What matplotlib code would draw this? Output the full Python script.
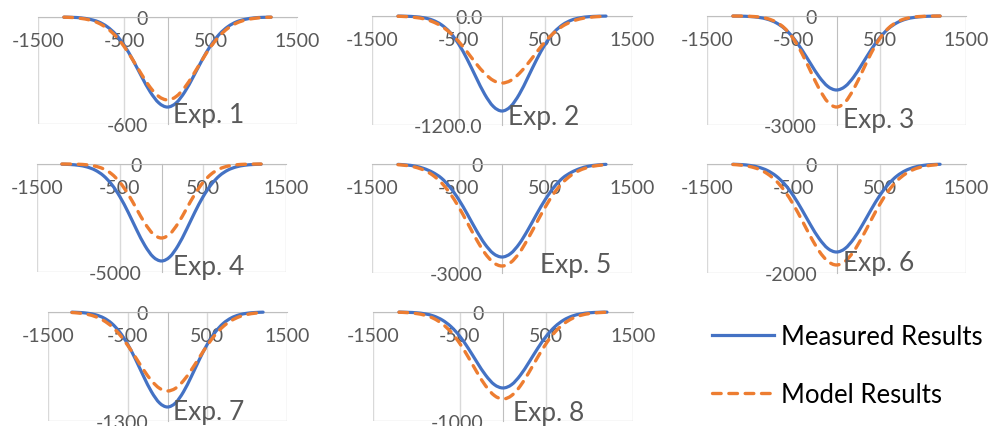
import matplotlib
matplotlib.use("Agg")
import matplotlib.pyplot as plt
from matplotlib.path import Path
from matplotlib.patches import PathPatch

plt.rcParams['font.family'] = ['Lato', 'DejaVu Sans']
plt.rcParams['axes.unicode_minus'] = False

# distancia (x) comun a todas las curvas
x = [-1200, -1100, -1000, -900, -800, -700, -600, -500, -400, -300, -200, -100, 0,
     100, 200, 300, 400, 500, 600, 700, 800, 900, 1000, 1100, 1200]

# medidos / modelo, por experimento
meas_1 = [-1, -2, -5, -13, -27, -54, -97, -160, -242, -334, -420, -482, -505,
          -482, -420, -334, -242, -160, -97, -54, -27, -13, -5, -2, -1]
model_1 = [-1, -3, -8, -17, -34, -63, -107, -167, -242, -322, -395, -446, -465,
           -446, -395, -322, -242, -167, -107, -63, -34, -17, -8, -3, -1]
meas_2 = [-1, -3, -8, -20, -46, -96, -180, -309, -479, -674, -861, -996, -1046,
          -996, -861, -674, -479, -309, -180, -96, -46, -20, -8, -3, -1]
model_2 = [-3, -7, -16, -32, -63, -111, -184, -281, -398, -522, -632, -710, -738,
           -710, -632, -522, -398, -281, -184, -111, -63, -32, -16, -7, -3]
meas_3 = [-2, -5, -15, -39, -89, -186, -350, -601, -933, -1312, -1676, -1939, -2037,
          -1939, -1676, -1312, -933, -601, -350, -186, -89, -39, -15, -5, -2]
model_3 = [-1, -3, -10, -28, -72, -165, -338, -624, -1030, -1521, -2007, -2370, -2505,
           -2370, -2007, -1521, -1030, -624, -338, -165, -72, -28, -10, -3, -1]
meas_4 = [-9, -24, -59, -135, -282, -539, -947, -1522, -2245, -3044, -3776, -4301, -4490,
          -4301, -3776, -3044, -2245, -1522, -947, -539, -282, -135, -59, -24, -9]
model_4 = [-1, -4, -13, -38, -98, -225, -463, -853, -1408, -2080, -2744, -3241, -3426,
           -3241, -2744, -2080, -1408, -853, -463, -225, -98, -38, -13, -4, -1]
meas_5 = [-10, -27, -60, -125, -230, -387, -637, -975, -1380, -1810, -2194, -2463, -2560,
          -2463, -2194, -1810, -1380, -975, -637, -387, -230, -125, -60, -27, -10]
model_5 = [-19, -42, -88, -170, -306, -514, -806, -1182, -1614, -2055, -2445, -2712, -2807,
           -2712, -2445, -2055, -1614, -1182, -806, -514, -306, -170, -88, -42, -19]
meas_6 = [-5, -11, -27, -60, -120, -220, -371, -581, -840, -1119, -1371, -1550, -1615,
          -1550, -1371, -1119, -840, -581, -371, -220, -120, -60, -27, -11, -5]
model_6 = [-9, -22, -48, -96, -180, -309, -497, -743, -1032, -1334, -1601, -1786, -1853,
           -1786, -1601, -1334, -1032, -743, -497, -309, -180, -96, -48, -22, -9]
meas_7 = [-2, -6, -15, -34, -71, -136, -239, -384, -567, -768, -953, -1085, -1133,
          -1085, -953, -768, -567, -384, -239, -136, -71, -34, -15, -6, -2]
model_7 = [-6, -14, -29, -57, -103, -172, -270, -397, -542, -690, -820, -910, -942,
           -910, -820, -690, -542, -397, -270, -172, -103, -57, -29, -14, -6]
meas_8 = [-1, -3, -7, -17, -37, -74, -134, -221, -334, -461, -580, -666, -697,
          -666, -580, -461, -334, -221, -134, -74, -37, -17, -7, -3, -1]
model_8 = [-2, -6, -14, -30, -59, -109, -184, -287, -415, -553, -678, -766, -798,
           -766, -678, -553, -415, -287, -184, -109, -59, -30, -14, -6, -2]

measured = [meas_1, meas_2, meas_3, meas_4, meas_5, meas_6, meas_7, meas_8]
model = [model_1, model_2, model_3, model_4, model_5, model_6, model_7, model_8]
titles = ["Exp. 1", "Exp. 2", "Exp. 3", "Exp. 4", "Exp. 5", "Exp. 6", "Exp. 7", "Exp. 8"]
y_min = [-600, -1200, -3000, -5000, -3000, -2000, -1300, -1000]
y_labels = [["-600", "0"], ["-1200.0", "0.0"], ["-3000", "0"], ["-5000", "0"],
            ["-3000", "0"], ["-2000", "0"], ["-1300", "0"], ["-1000", "0"]]
x_ticks = [-1500, -500, 500, 1500]
x_ticklabels = ["-1500", "-500", "500", "1500"]

# =====================
# LAYOUT (pixeles)
# =====================
W, H = 1002, 427
boxes = [(38, 297, 18, 125), (372, 632, 17, 126), (707, 966, 17, 126),
         (37, 286, 165, 273), (372, 632, 165, 274), (707, 966, 165, 274),
         (48, 287, 313, 422), (373, 633, 313, 422)]
title_pos = [(173, 123), (508, 125), (843, 128),
             (173, 275), (540, 273), (843, 271),
             (173, 420), (513, 421)]

BLUE = "#4472C4"
ORANGE = "#ED7D31"
GRID = "#D9D9D9"
AXIS = "#BFBFBF"
TXT = "#595959"
DASH = (0, (2.6, 2.3))


def smooth(xs, ys):
    # linea suavizada tipo Excel (bezier por los puntos)
    pts = list(zip(xs, ys))
    verts = [pts[0]]
    codes = [Path.MOVETO]
    n = len(pts)
    for i in range(n - 1):
        p0 = pts[max(i - 1, 0)]
        p1 = pts[i]
        p2 = pts[i + 1]
        p3 = pts[min(i + 2, n - 1)]
        c1 = (p1[0] + (p2[0] - p0[0]) / 6, p1[1] + (p2[1] - p0[1]) / 6)
        c2 = (p2[0] - (p3[0] - p1[0]) / 6, p2[1] - (p3[1] - p1[1]) / 6)
        verts += [c1, c2, p2]
        codes += [Path.CURVE4] * 3
    return Path(verts, codes)


fig = plt.figure(figsize=(W / 100, H / 100), dpi=100)

for k in range(8):
    x0, x1, y0, y1 = boxes[k]
    ax = fig.add_axes([x0 / W, 1 - y1 / H, (x1 - x0) / W, (y1 - y0) / H])
    ax.set_xlim(-1500, 1500)
    ax.set_ylim(y_min[k], 0)

    ax.add_patch(PathPatch(smooth(x, measured[k]), fill=False, edgecolor=BLUE, lw=2.3,
                           capstyle='round', clip_on=False, zorder=3))
    ax.add_patch(PathPatch(smooth(x, model[k]), fill=False, edgecolor=ORANGE, lw=2.4,
                           linestyle=DASH, capstyle='round', clip_on=False, zorder=4))

    for s in ['top', 'right']:
        ax.spines[s].set_visible(False)
    ax.spines['left'].set_position(('data', 0))
    ax.spines['bottom'].set_position(('data', 0))
    ax.spines['left'].set_color(AXIS)
    ax.spines['bottom'].set_color(AXIS)
    ax.spines['left'].set_zorder(1)
    ax.spines['bottom'].set_zorder(1)

    ax.set_xticks(x_ticks)
    ax.set_xticklabels(x_ticklabels)
    ax.set_yticks([y_min[k], 0])
    ax.set_yticklabels(y_labels[k])
    ax.tick_params(axis='both', length=0, labelsize=14, labelcolor=TXT)
    ax.tick_params(axis='x', pad=11)
    ax.tick_params(axis='y', pad=14)
    ax.grid(True, color=GRID, lw=1.0)
    ax.set_axisbelow(True)
    ax.patch.set_visible(False)

    tx, ty = title_pos[k]
    fig.text(tx / W, 1 - ty / H, titles[k], fontsize=19, color=TXT,
             ha='left', va='baseline')

# leyenda
h1, = plt.plot([], [], color=BLUE, lw=2.3)
h2, = plt.plot([], [], color=ORANGE, lw=2.4, linestyle=DASH, dash_capstyle='round')
fig.legend([h1, h2], ["Measured Results", "Model Results"],
           loc='upper left', bbox_to_anchor=(712 / W, 1 - 325 / H),
           frameon=False, fontsize=18.5, handlelength=2.4, handletextpad=0.3,
           labelspacing=1.3, borderpad=0, borderaxespad=0)

fig.savefig("out.png", dpi=100)
